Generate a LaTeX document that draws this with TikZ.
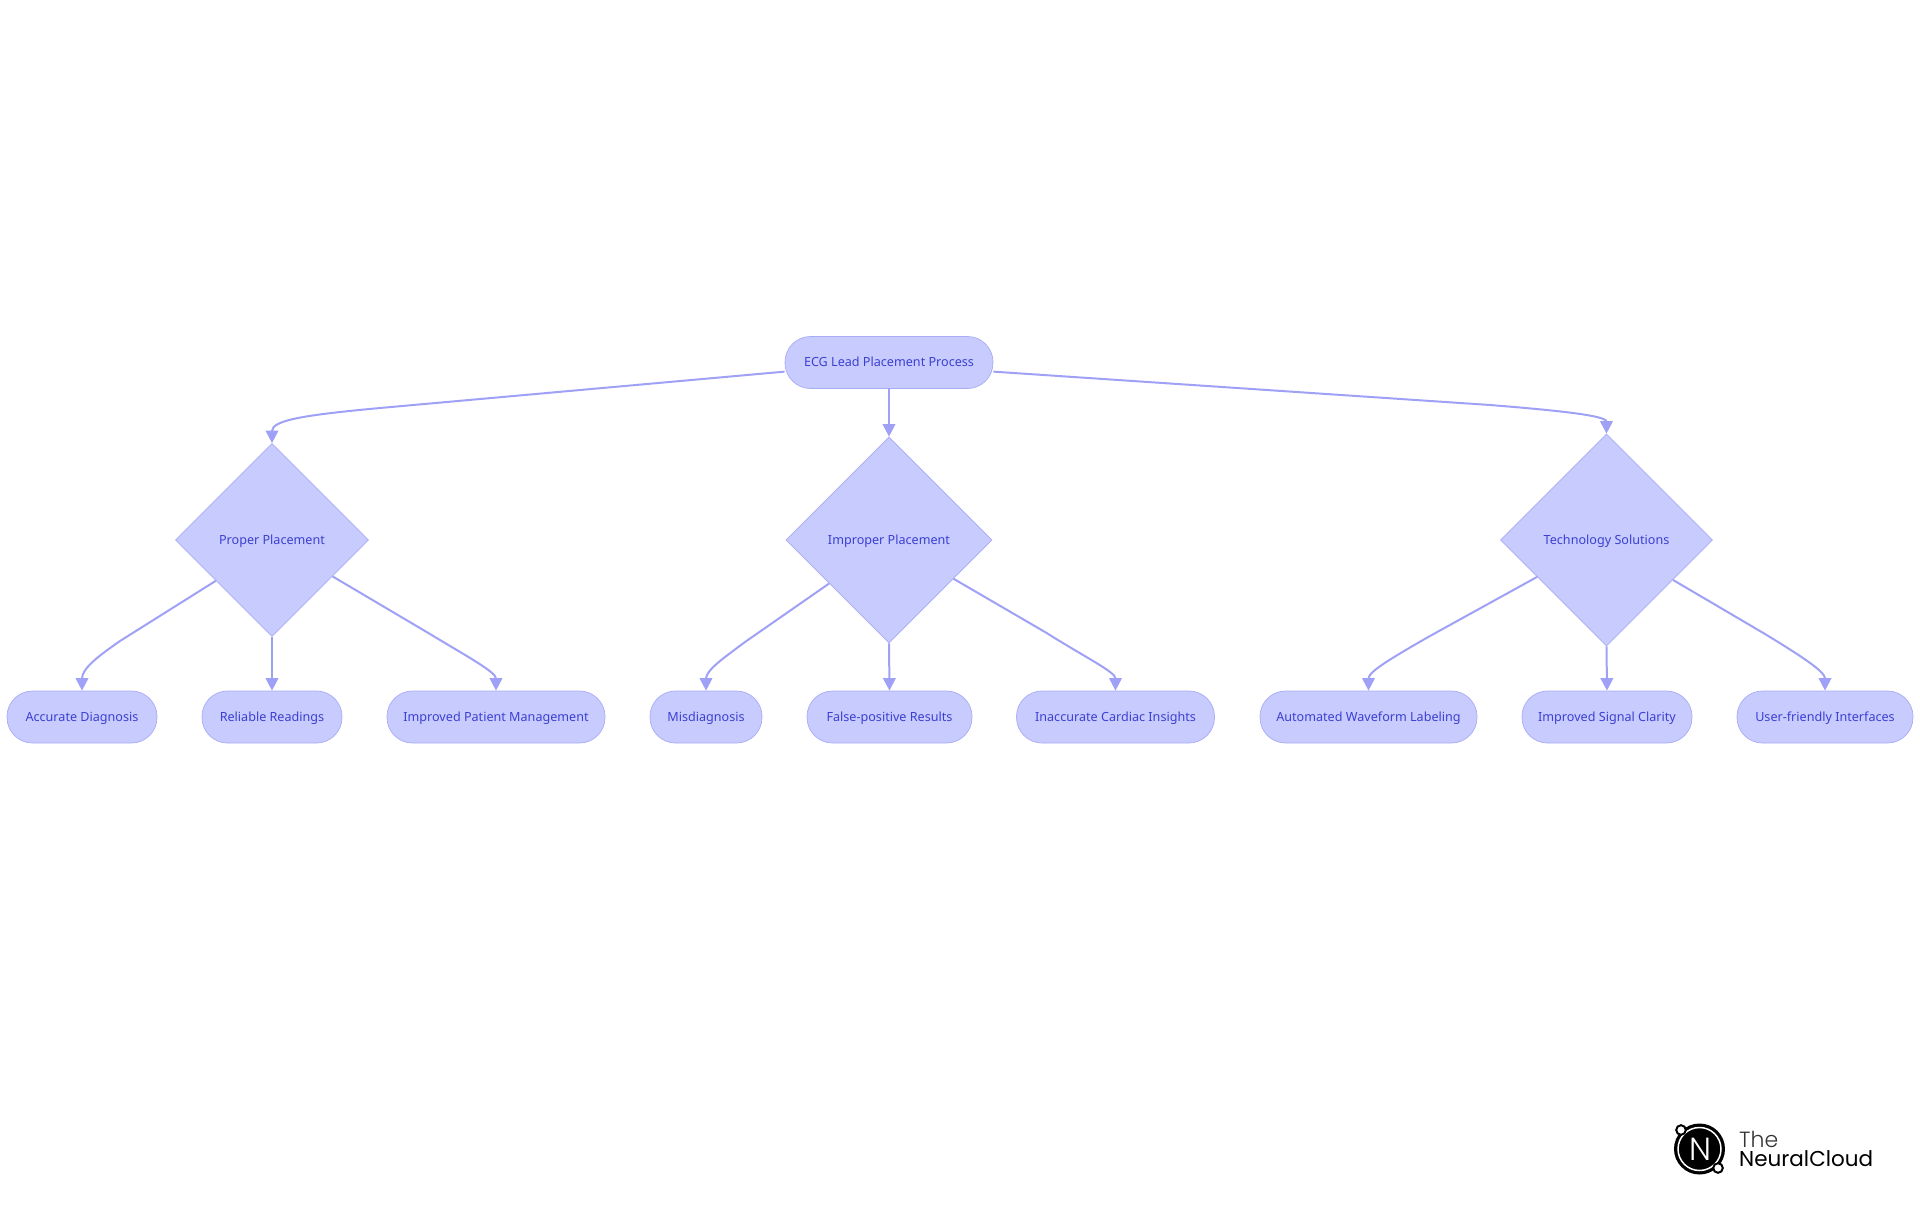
\documentclass[tikz,border=0pt]{standalone}
\usepackage{fontspec}
\setmainfont{Noto Sans}
\newfontfamily\logofont[UprightFont=* Light]{Poppins}
\newfontfamily\logobold{Poppins}
\usetikzlibrary{arrows.meta,shapes.geometric}
\definecolor{nodefill}{HTML}{C8CBFD}
\definecolor{nodeline}{HTML}{A8ABF6}
\definecolor{nodetext}{HTML}{3B3FD2}
\definecolor{edgecol}{HTML}{9EA1F5}
\tikzset{
  x=1pt,y=-1pt,
  pill/.style={draw=nodeline,line width=0.7pt,fill=nodefill,rounded corners=25.5pt,
    minimum height=52pt,inner sep=0pt,text=nodetext,text height=11pt,text depth=3pt,font=\fontsize{12.6}{15}\selectfont},
  decision/.style={diamond,aspect=1,draw=nodeline,line width=0.7pt,fill=nodefill,inner sep=0pt,
    text=nodetext,text height=11pt,text depth=3pt,font=\fontsize{12.6}{15}\selectfont},
  edge/.style={draw=edgecol,line width=2pt,-{Triangle[length=12.5pt,width=12.5pt]}}
}
\begin{document}
\begin{tikzpicture}
\useasboundingbox (0,0) rectangle (1920,1215);
\node[pill,minimum width=208pt] (root) at (889,362.5) {ECG Lead Placement Process};
\node[decision,minimum width=193pt,minimum height=193pt] (proper) at (272,540) {Proper Placement};
\node[decision,minimum width=206pt,minimum height=206pt] (improper) at (889,540) {Improper Placement};
\node[decision,minimum width=212pt,minimum height=212pt] (tech) at (1606.5,540) {Technology Solutions};
\node[pill,minimum width=150pt] (acc) at (82,717) {Accurate Diagnosis};
\node[pill,minimum width=140pt] (rel) at (272,717) {Reliable Readings};
\node[pill,minimum width=218pt] (pat) at (496,717) {Improved Patient Management};
\node[pill,minimum width=112pt] (mis) at (706,717) {Misdiagnosis};
\node[pill,minimum width=165pt] (fal) at (889.5,717) {False-positive Results};
\node[pill,minimum width=198pt] (ina) at (1115.5,717) {Inaccurate Cardiac Insights};
\node[pill,minimum width=217pt] (aut) at (1368.5,717) {Automated Waveform Labeling};
\node[pill,minimum width=170pt] (sig) at (1607,717) {Improved Signal Clarity};
\node[pill,minimum width=176pt] (usr) at (1825,717) {User-friendly Interfaces};

\draw[edge] (root.185) -- (380,408) .. controls (305,415) and (272,420) .. (proper.north);
\draw[edge] (root) ++(0,25.5) -- (improper.north);
\draw[edge] (root.355) -- (1490,405) .. controls (1565,411) and (1606.5,416) .. (tech.north);
\draw[edge] (proper.216) -- (120,641) .. controls (100,655) and (82,668) .. (acc.north);
\draw[edge] (proper.south) -- (rel.north);
\draw[edge] (proper.329.5) -- (430,634) .. controls (468,657) and (496,672) .. (pat.north);
\draw[edge] (improper.216.3) -- (745,642) .. controls (725,657) and (706,670) .. (mis.north);
\draw[edge] (improper.south) -- (fal.north);
\draw[edge] (improper.329.4) -- (1045,632) .. controls (1088,659) and (1115.5,672) .. (ina.north);
\draw[edge] (tech.208.8) -- (1430,636) .. controls (1388,660) and (1368.5,672) .. (aut.north);
\draw[edge] (tech.south) -- (sig.north);
\draw[edge] (tech.329.2) -- (1765,634) .. controls (1806,659) and (1825,672) .. (usr.north);

% logo
\fill[black] (1699.5,1149) circle[radius=25.5pt];
\draw[white,line width=1.5pt] (1699.5,1149) circle[radius=21.5pt];
\draw[black,fill=white,line width=2pt] (1681,1130) circle[radius=4.8pt];
\draw[black,fill=white,line width=2pt] (1718,1168) circle[radius=4.8pt];
\node[text=white,inner sep=0pt,font=\logofont\fontsize{32}{32}\selectfont] (logoN) at (1700,1149) {N};
\node[anchor=west,inner sep=0pt,text=black!80,font=\logofont\fontsize{22}{22}\selectfont] (logoA) at (1739,1139) {The};
\node[anchor=west,inner sep=0pt,text=black,font=\logobold\fontsize{21.5}{21.5}\selectfont] (logoB) at (1739,1159) {NeuralCloud};
\end{tikzpicture}
\end{document}
